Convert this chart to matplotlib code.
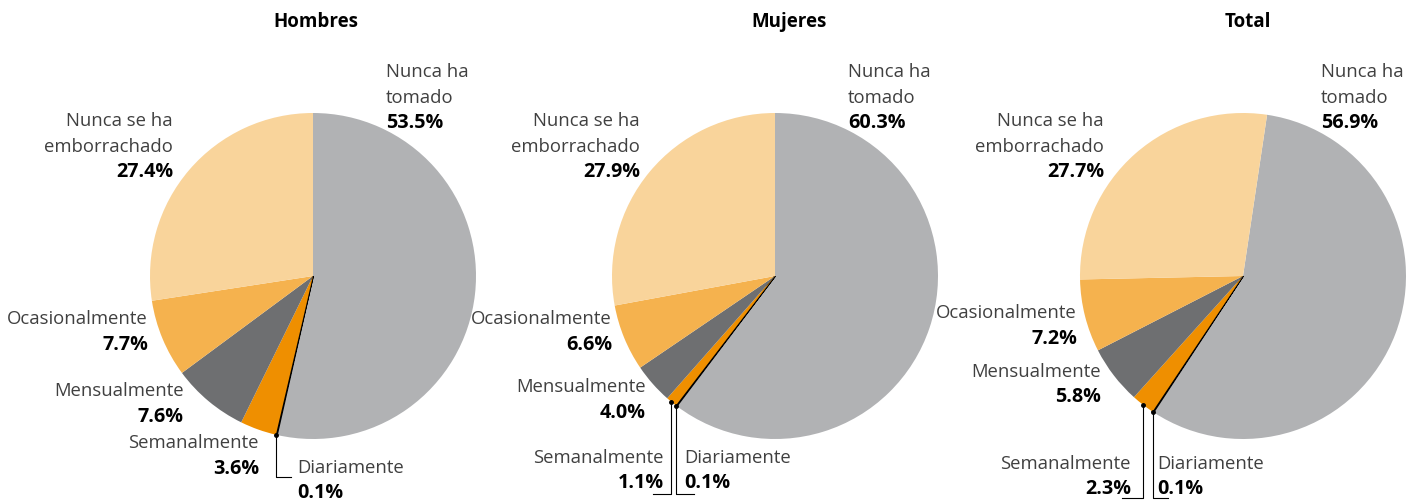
import numpy as np
import matplotlib.pyplot as plt

plt.rcParams['font.family'] = ['Open Sans', 'DejaVu Sans']

categories = ["Nunca ha\ntomado", "Diariamente", "Semanalmente", "Mensualmente",
              "Ocasionalmente", "Nunca se ha\nemborrachado"]
panels = ["Hombres", "Mujeres", "Total"]
hombres = [53.5, 0.1, 3.6, 7.6, 7.7, 27.4]
mujeres = [60.3, 0.1, 1.1, 4.0, 6.6, 27.9]
total = [56.9, 0.1, 2.3, 5.8, 7.2, 27.7]

colors = ['#b1b2b4', '#000000', '#ef8f00', '#6e6f71', '#f5b24e', '#f9d49b']

H = 503
# layout (pixel coords, y measured from top)
centers = [(313, 276), (775, 276), (1243, 276)]
radius = 163
starts = [90, 90, 81.5]
title_x = [316, 789, 1248]
label_pos = [
    [(386, 72, 'left'), (297, 468, 'left'), (259, 443, 'right'), (184, 391, 'right'),
     (148, 319, 'right'), (173, 121, 'right')],
    [(848, 72, 'left'), (684, 458, 'left'), (664, 458, 'right'), (646, 387, 'right'),
     (612, 319, 'right'), (640, 121, 'right')],
    [(1321, 72, 'left'), (1157, 464, 'left'), (1131, 464, 'right'), (1101, 372, 'right'),
     (1077, 313, 'right'), (1104, 121, 'right')],
]
# leaders: panel -> {slice index: (y_end, x_end)}
leaders = [
    {1: (477, 291)},
    {2: (494, 653), 1: (494, 694)},
    {2: (498, 1122), 1: (498, 1168)},
]
line_h = 25.5

fig = plt.figure(figsize=(14.12, 5.03), dpi=100)
ax = fig.add_axes([0, 0, 1, 1])

for p, vals in enumerate([hombres, mujeres, total]):
    cx, cy = centers[p]
    wedges, _ = ax.pie(vals, colors=colors, startangle=starts[p], counterclock=False,
                       radius=radius, center=(cx, H - cy), frame=True,
                       wedgeprops=dict(linewidth=0))
    wedges[1].set_edgecolor('black')
    wedges[1].set_linewidth(1.3)

    ax.text(title_x[p], H - 22, panels[p], ha='center', va='center',
            fontsize=13.5, fontweight='bold', color='black')

    for i, name in enumerate(categories):
        x, y, ha = label_pos[p][i]
        lines = name.split("\n")
        for k, ln in enumerate(lines):
            ax.text(x, H - (y + k * line_h), ln, ha=ha, va='center',
                    fontsize=13.3, color='#404040')
        ax.text(x, H - (y + len(lines) * line_h), f"{vals[i]:.1f}%", ha=ha,
                va='center', fontsize=14.2, fontweight='bold', color='black')

    for i, (ye, xe) in leaders[p].items():
        w = wedges[i]
        mid = np.deg2rad((w.theta1 + w.theta2) / 2)
        sx = cx + radius * np.cos(mid)
        sy = (H - cy) + radius * np.sin(mid)
        ax.plot([sx, sx, xe], [sy, H - ye, H - ye], color='black', lw=0.8)
        ax.plot(sx, sy, 'o', color='black', ms=2.5)

ax.set_xlim(0, 1412)
ax.set_ylim(0, H)
ax.set_aspect('equal')
ax.set_axis_off()

plt.savefig("out.png", dpi=100)
